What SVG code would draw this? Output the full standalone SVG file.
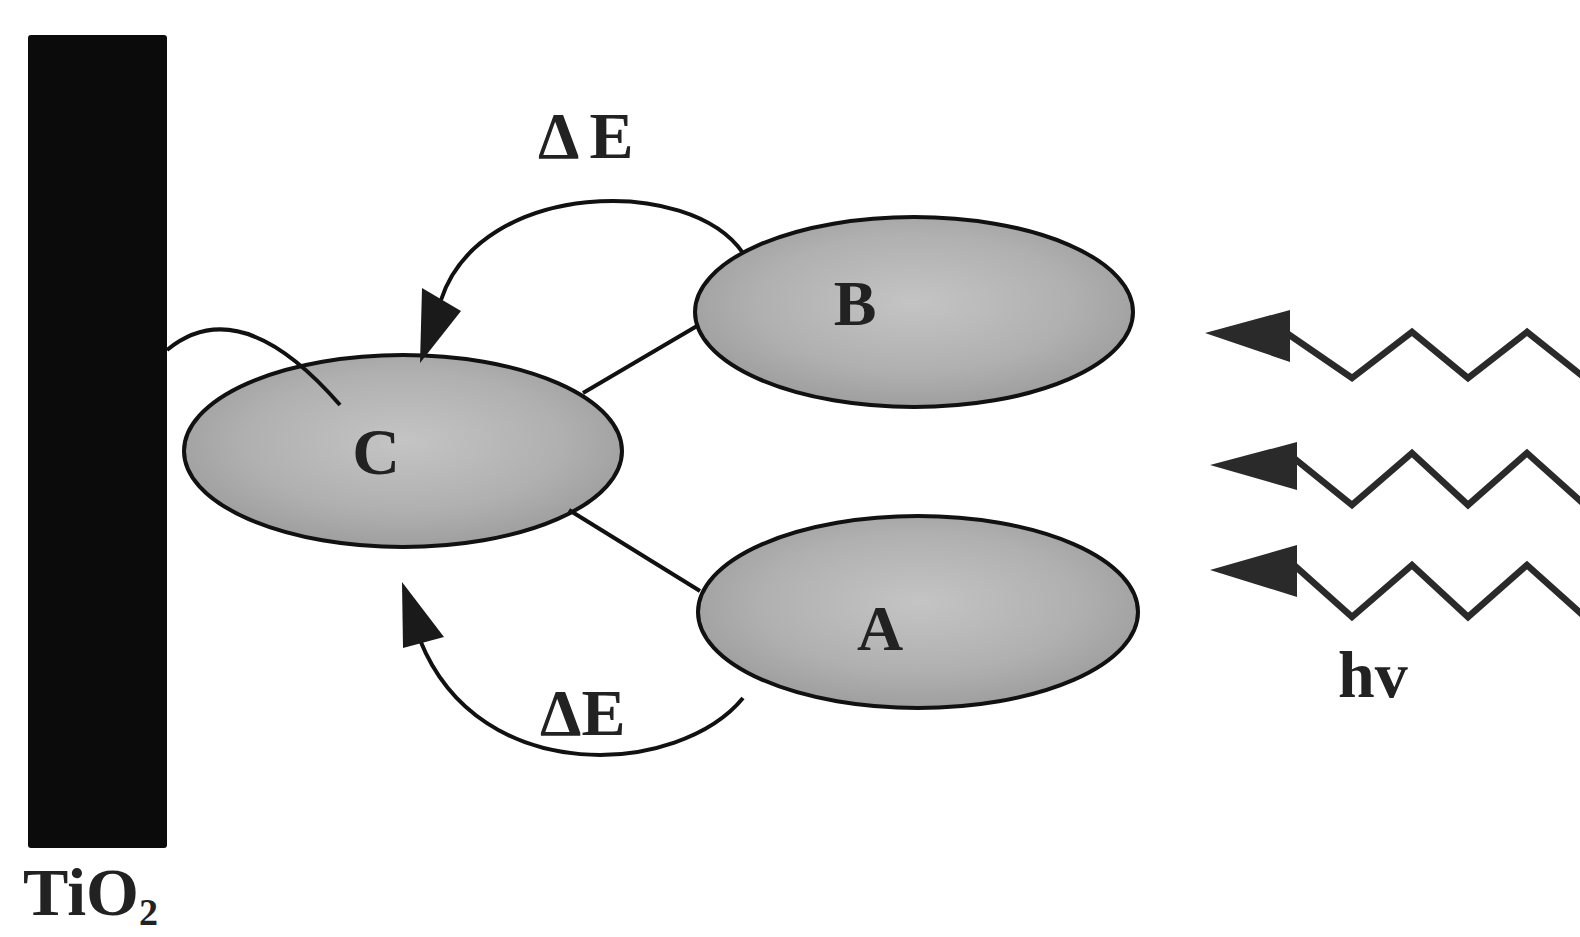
<svg xmlns="http://www.w3.org/2000/svg" width="1580" height="937" viewBox="0 0 1580 937">
  <defs>
    <radialGradient id="blob" cx="50%" cy="45%" r="60%">
      <stop offset="0" stop-color="#c4c4c4"/>
      <stop offset="0.6" stop-color="#b0b0b0"/>
      <stop offset="1" stop-color="#9a9a9a"/>
    </radialGradient>
  </defs>
  <style>
    .ell { fill: url(#blob); stroke: #111; stroke-width: 4; }
    .lbl { font-family: "Liberation Serif", "Times New Roman", serif; font-weight: bold; fill: #222; }
    .conn { fill: none; stroke: #111; stroke-width: 4; }
    .wave { fill: none; stroke: #2a2a2a; stroke-width: 6.5; stroke-linejoin: miter; }
    .head { fill: #1a1a1a; }
    .whead { fill: #2a2a2a; }
  </style>
  <rect width="1580" height="937" fill="#ffffff"/>

  <g id="tio2">
    <rect x="28" y="35" width="139" height="813" rx="3" fill="#0b0b0b"/>
    <text class="lbl" x="23" y="915" font-size="68" fill="#333">TiO<tspan font-size="38" dy="10">2</tspan></text>
  </g>

  <g id="node-C">
    <ellipse class="ell" cx="403" cy="451" rx="219" ry="96"/>
    <text class="lbl" x="376" y="474" font-size="66" text-anchor="middle">C</text>
  </g>
  <g id="node-B">
    <ellipse class="ell" cx="914" cy="312" rx="219" ry="95"/>
    <text class="lbl" x="855" y="325" font-size="64" text-anchor="middle">B</text>
  </g>
  <g id="node-A">
    <ellipse class="ell" cx="918" cy="612" rx="220" ry="96"/>
    <text class="lbl" x="880" y="650" font-size="64" text-anchor="middle">A</text>
  </g>

  <g id="connectors">
    <line class="conn" x1="583" y1="393" x2="697" y2="326"/>
    <line class="conn" x1="569" y1="510" x2="700" y2="591"/>
    <path class="conn" d="M167,350 Q240,290 340,405"/>
    <path class="conn" d="M743,253 C690,175 480,180 441,300"/>
    <polygon class="head" points="420,363 422,288 461,311"/>
    <path class="conn" d="M743,698 C680,775 480,790 420,640"/>
    <polygon class="head" points="402,582 403,648 444,637"/>
  </g>

  <g id="label-dE-top">
    <text class="lbl" x="538" y="158" font-size="66" fill="#333" letter-spacing="10">ΔE</text>
  </g>
  <g id="label-dE-bottom">
    <text class="lbl" x="540" y="735" font-size="66" fill="#333">ΔE</text>
  </g>

  <g id="light">
    <path class="wave" d="M1288,334 L1352,378 L1412,332 L1468,378 L1527,332 L1585,378"/>
    <polygon class="whead" points="1205,333 1290,310 1290,362"/>
    <path class="wave" d="M1295,459 L1352,505 L1412,453 L1468,505 L1527,453 L1585,505"/>
    <polygon class="whead" points="1210,465 1297,442 1297,490"/>
    <path class="wave" d="M1295,566 L1352,617 L1412,565 L1468,617 L1527,565 L1585,617"/>
    <polygon class="whead" points="1210,570 1297,545 1297,597"/>
    <text class="lbl" x="1338" y="697" font-size="66">hv</text>
  </g>
</svg>
